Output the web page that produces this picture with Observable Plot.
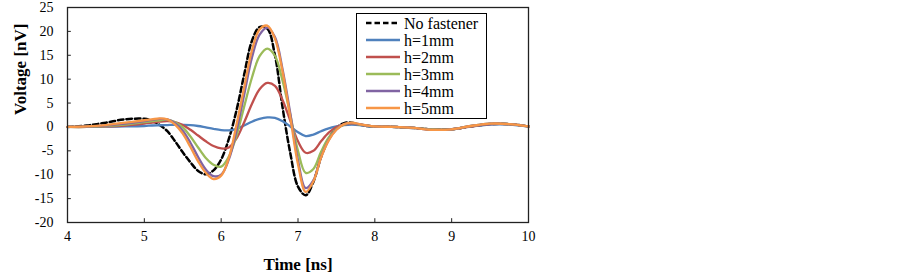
<!DOCTYPE html>
<html><head><meta charset="utf-8">
<script src="https://cdn.jsdelivr.net/npm/d3@7"></script>
<script src="https://cdn.jsdelivr.net/npm/@observablehq/plot@0.6"></script>
<style>body{margin:0;background:#fff} #chart{position:relative;width:902px;height:279px}</style>
</head><body><div id="chart"></div>
<script>
// Time axis (ns), shared by all series
const time = [4.0,4.25,4.5,4.75,
  5.0,5.1,5.2,5.3,5.4,5.5,5.6,5.7,5.8,5.9,6.0,6.1,6.2,6.3,6.4,6.5,6.6,6.7,6.8,6.9,7.0,7.1,7.2,7.3,7.4,7.5,7.6,7.7,7.8,7.9,8.0,
  8.25,8.5,8.75,9.0,9.25,9.5,9.75,10.0];

// Voltage (nV)
const noFastener = [0,0.3,0.9,1.6,
  1.7,1.3,0.4,-0.9,-3.0,-5.3,-7.4,-9.2,-9.9,-9.1,-6.8,-2.5,3.5,11.0,18.0,20.9,20.6,15.0,4.0,-5.5,-12.5,-14.3,-11.5,-6.3,-2.5,-0.2,0.8,0.9,0.5,0.2,0.1,
  0,-0.2,-0.5,-0.5,0.1,0.6,0.6,0.1];
const h1 = [0,0,0.05,0.1,
  0.2,0.3,0.35,0.4,0.45,0.45,0.4,0.2,-0.1,-0.4,-0.65,-0.7,-0.4,0.3,1.1,1.7,2.0,1.9,1.2,0.1,-1.1,-1.9,-1.6,-0.9,-0.3,0.1,0.4,0.5,0.4,0.2,0.1,
  0,-0.2,-0.5,-0.5,0.1,0.5,0.5,0.1];
const h2 = [0,0,0.1,0.3,
  0.7,0.9,1.1,1.2,1.0,0.4,-0.6,-1.8,-3.0,-4.0,-4.5,-4.3,-2.4,1.0,4.8,7.9,9.2,8.6,5.6,1.3,-3.0,-5.4,-5.0,-3.0,-1.2,0.0,0.5,0.7,0.5,0.3,0.1,
  0,-0.2,-0.5,-0.5,0.1,0.6,0.6,0.1];
const h3 = [0,0,0.2,0.5,
  1.0,1.2,1.4,1.5,1.0,-0.1,-2.0,-4.3,-6.5,-7.9,-8.3,-6.2,-1.8,4.3,10.3,14.8,16.4,14.9,9.6,2.5,-5.0,-9.6,-8.8,-5.2,-2.2,-0.4,0.5,0.8,0.5,0.3,0.1,
  0,-0.2,-0.5,-0.5,0.2,0.7,0.6,0.1];
const h4 = [0,0.05,0.3,0.7,
  1.2,1.5,1.7,1.6,0.8,-0.8,-3.3,-6.3,-8.9,-10.3,-10.0,-6.8,-0.8,6.8,14.5,19.3,20.8,18.8,12.0,2.8,-7.0,-12.8,-11.2,-6.3,-2.7,-0.5,0.6,0.8,0.6,0.3,0.1,
  0,-0.2,-0.6,-0.5,0.2,0.7,0.6,0.1];
const h5 = [0,0.1,0.4,0.9,
  1.4,1.6,1.8,1.6,0.5,-1.4,-4.2,-7.2,-9.6,-10.9,-10.2,-6.5,0.5,8.3,16.0,20.4,21.2,18.5,11.5,2.0,-7.8,-13.6,-11.4,-6.4,-2.8,-0.6,0.6,0.9,0.6,0.3,0.1,
  0,-0.2,-0.6,-0.5,0.2,0.7,0.6,0.1];

const seriesNames = ["No fastener","h=1mm","h=2mm","h=3mm","h=4mm","h=5mm"];
const seriesColors = ["#000000","#4F81BD","#C0504D","#9BBB59","#8064A2","#F79646"];
const xTicks = [4,5,6,7,8,9,10];
const yTicks = [-20,-15,-10,-5,0,5,10,15,20,25];

const seriesValues = [noFastener,h1,h2,h3,h4,h5];
const rows = seriesValues.map((vals,s) => vals.map((v,i) => ({series: seriesNames[s], t: time[i], v})));

const font = "'Liberation Serif','Times New Roman',serif";

const lines = rows.map((data,s) => Plot.line(data, {
  x: "t", y: "v", stroke: seriesColors[s], curve: "catmull-rom",
  strokeWidth: s === 0 ? 2.5 : 2.3,
  strokeDasharray: s === 0 ? "5.5,3" : null
}));

const plot = Plot.plot({
  width: 902, height: 279,
  marginLeft: 67, marginRight: 374, marginTop: 7, marginBottom: 57,
  style: {fontFamily: font, fontSize: "14px", color: "#000", background: "#fff"},
  x: {domain: [4,10]},
  y: {domain: [-20,25]},
  marks: [
    Plot.ruleY(yTicks, {x1: 4, x2: 4.05, stroke: "#222"}),
    Plot.ruleX(xTicks, {y1: -20, y2: -19.2, stroke: "#222"}),
    ...lines,
    Plot.frame({stroke: "#222", strokeWidth: 1.3}),
    Plot.axisX({ticks: xTicks, tickFormat: d => String(d), tickSize: 0, tickPadding: 9, label: null, fontSize: 14, fontFamily: font}),
    Plot.axisY({ticks: yTicks, tickFormat: d => String(d), tickSize: 0, tickPadding: 14, label: null, fontSize: 14, fontFamily: font}),
    Plot.text(["Time [ns]"], {frameAnchor: "bottom", dy: 42, fontWeight: "bold", fontSize: 17, lineAnchor: "middle", fontFamily: font}),
    Plot.text(["Voltage [nV]"], {frameAnchor: "left", dx: -47, rotate: -90, fontWeight: "bold", fontSize: 17, lineAnchor: "middle", fontFamily: font})
  ]
});

document.getElementById("chart").appendChild(plot);

// Legend
const svg = d3.select(plot);
const lg = svg.append("g").attr("font-family", font).attr("font-size", 16).attr("text-anchor", "start");
lg.append("rect").attr("x", 356.5).attr("y", 13.5).attr("width", 130).attr("height", 105)
  .attr("fill", "#fff").attr("stroke", "#000").attr("stroke-width", 1);
seriesNames.forEach((name, i) => {
  const y = 23 + i * 17;
  lg.append("line").attr("x1", 366).attr("x2", 400).attr("y1", y).attr("y2", y)
    .attr("stroke", seriesColors[i]).attr("stroke-width", i === 0 ? 2.5 : 2.3)
    .attr("stroke-dasharray", i === 0 ? "5.5,3" : null);
  lg.append("text").attr("x", 404).attr("y", y).attr("dy", "0.35em").attr("fill", "#000")
    .attr("text-anchor", "start").text(name);
});
</script>
</body></html>
